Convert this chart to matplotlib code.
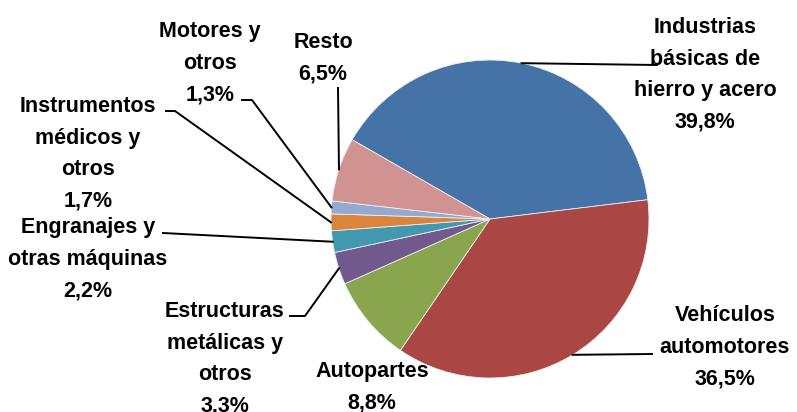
import numpy as np
import matplotlib
matplotlib.use('Agg')
import matplotlib.pyplot as plt

LABELS = ['Industrias\nbásicas de\nhierro y acero', 'Vehículos\nautomotores', 'Autopartes',
          'Estructuras\nmetálicas y\notros', 'Engranajes y\notras máquinas',
          'Instrumentos\nmédicos y\notros', 'Motores y\notros', 'Resto']
PCT_TEXT = ['39,8%', '36,5%', '8,8%', '3,3%', '2,2%', '1,7%', '1,3%', '6,5%']
SHARES = [39.8, 36.5, 8.8, 3.3, 2.2, 1.7, 1.3, 6.5]
COLORS = ['#4572A7', '#AA4643', '#89A54E', '#71588F', '#4198AF', '#DB843D', '#93A9CF', '#D19392']

W, H = 797, 412
fig = plt.figure(figsize=(W / 100, H / 100), dpi=100)
ax = fig.add_axes([0, 0, 1, 1])

cx, cy, r = 490, H - 219, 159
wedges, _ = ax.pie(SHARES, colors=COLORS, startangle=150.1, counterclock=False,
                   center=(cx, cy), radius=r, frame=True,
                   wedgeprops=dict(edgecolor='#eeeeee', linewidth=0.6))
ax.set_xlim(0, W)
ax.set_ylim(0, H)
ax.set_aspect('equal')
ax.axis('off')

# label layout: text centre x, top y (px from top), elbow points for leader line
layout = [
    (705, 17, [(657, 65)]),
    (725, 305, [(652, 354)]),
    (372, 361, None),
    (225, 301, [(305, 316), (290, 316)]),
    (88, 217, [(163, 233)]),
    (88, 96, [(175, 111), (166, 111)]),
    (210, 21, [(252, 100), (242, 100)]),
    (323, 32, [(338, 88)]),
]

font = dict(family='Liberation Sans', weight='bold', fontsize=15.5)
for w, lab, pct, (tx, ty, elbow) in zip(wedges, LABELS, PCT_TEXT, layout):
    ax.text(tx, H - ty, lab + '\n' + pct, ha='center', va='top',
            linespacing=1.66, **font)
    if elbow:
        mid = np.deg2rad((w.theta1 + w.theta2) / 2)
        xs = [cx + r * np.cos(mid)] + [p[0] for p in elbow]
        ys = [cy + r * np.sin(mid)] + [H - p[1] for p in elbow]
        ax.plot(xs, ys, color='black', linewidth=1.4)

fig.savefig('out.png', dpi=100)
